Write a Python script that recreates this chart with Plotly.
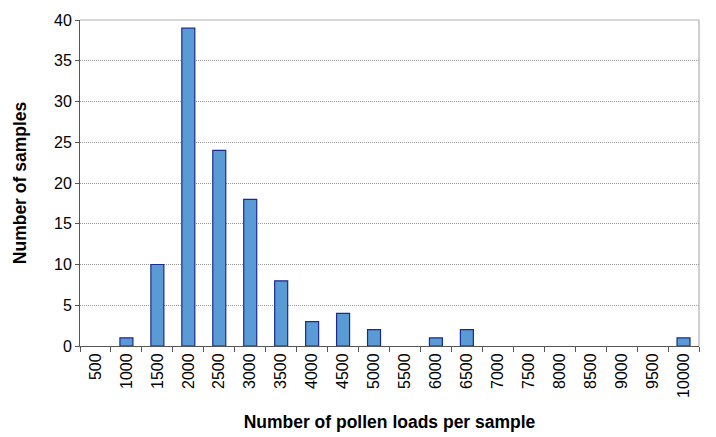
import plotly.graph_objects as go

categories = ["500", "1000", "1500", "2000", "2500", "3000", "3500", "4000", "4500", "5000",
              "5500", "6000", "6500", "7000", "7500", "8000", "8500", "9000", "9500", "10000"]
samples = [0, 1, 10, 39, 24, 18, 8, 3, 4, 2, 0, 1, 2, 0, 0, 0, 0, 0, 0, 1]
y_ticks = [0, 5, 10, 15, 20, 25, 30, 35, 40]

outline_widths = [1.2 if v > 0 else 0 for v in samples]

fig = go.Figure()
fig.add_trace(go.Bar(
    x=categories, y=samples, width=0.42,
    marker=dict(color="#5B9BD5", line=dict(color="#1C2A8F", width=outline_widths)),
))

font = "Liberation Sans, Arial, sans-serif"
fig.update_layout(
    width=716, height=437,
    margin=dict(l=72, r=25, t=12, b=99),
    paper_bgcolor="white", plot_bgcolor="white",
    showlegend=False,
    font=dict(family=font, size=16, color="black"),
    xaxis=dict(
        type="category", tickangle=-90, ticks="outside", tickson="boundaries",
        ticklen=5, tickcolor="#555555", showline=True, linecolor="#555555", linewidth=1,
        showgrid=False, tickfont=dict(size=16), automargin=False,
        title=dict(text="<b>Number of pollen loads per sample</b>", font=dict(size=17.5), standoff=18),
    ),
    yaxis=dict(
        range=[0, 40], tickvals=y_ticks, ticks="outside", ticklen=4, tickcolor="#555555",
        showline=True, linecolor="#555555", linewidth=1,
        showgrid=True, gridcolor="#9a9a9a", griddash="1px,1px", gridwidth=1,
        zeroline=False, tickfont=dict(size=16), automargin=False,
        title=dict(text="<b>Number of samples</b>", font=dict(size=17.5), standoff=22),
    ),
    shapes=[
        dict(type="line", xref="paper", yref="paper", x0=0, x1=1, y0=1, y1=1,
             line=dict(color="#b0b0b0", width=1.2)),
        dict(type="line", xref="paper", yref="paper", x0=1, x1=1, y0=0, y1=1,
             line=dict(color="#b0b0b0", width=1.2)),
    ],
)

fig.write_html("out.html")
